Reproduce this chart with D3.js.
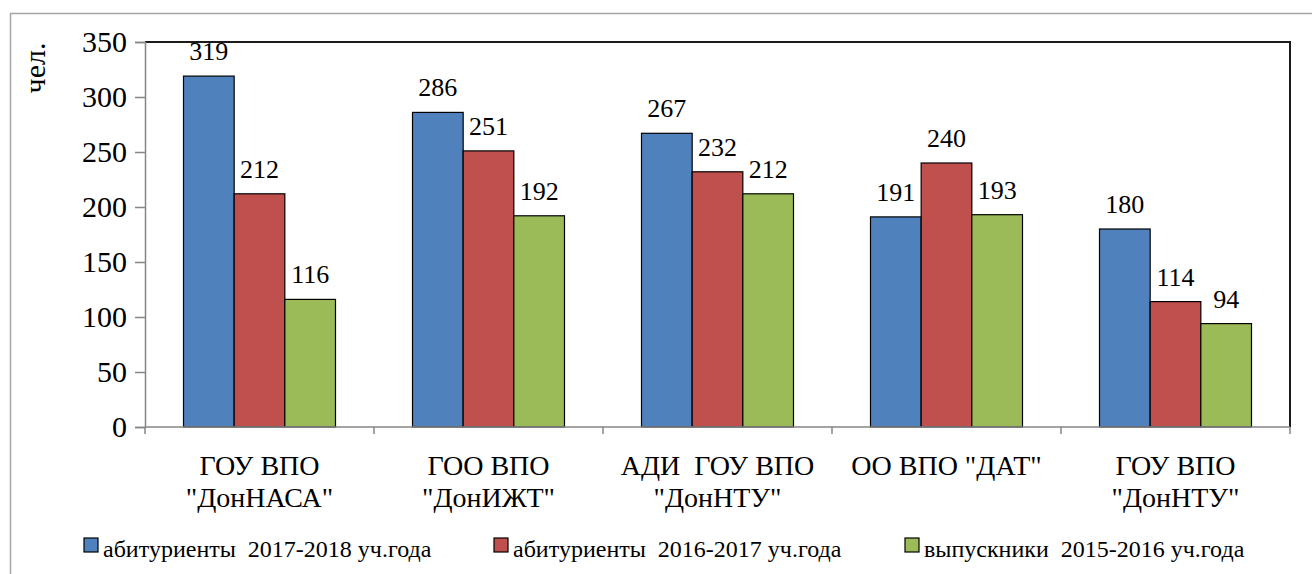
<!DOCTYPE html>
<html>
<head>
<meta charset="utf-8">
<script src="https://cdn.jsdelivr.net/npm/d3@7"></script>
</head>
<body style="margin:0">
<svg id="chart" width="1312" height="574" font-family="Liberation Serif"></svg>
<script>
// ----------------------
// Data
// ----------------------
const categories = [
    ["ГОУ ВПО", "\"ДонНАСА\""],
    ["ГОО ВПО", "\"ДонИЖТ\""],
    ["АДИ \u00A0ГОУ ВПО", "\"ДонНТУ\""],
    ["ОО ВПО \"ДАТ\""],
    ["ГОУ ВПО", "\"ДонНТУ\""]
];
const seriesNames = [
    "абитуриенты \u00A02017-2018 уч.года",
    "абитуриенты \u00A02016-2017 уч.года",
    "выпускники \u00A02015-2016 уч.года"
];
const applicants2017 = [319, 286, 267, 191, 180];
const applicants2016 = [212, 251, 232, 240, 114];
const graduates2015 = [116, 192, 212, 193, 94];
const yTicks = [0, 50, 100, 150, 200, 250, 300, 350];
const colors = ["#4F81BD", "#C0504D", "#9BBB59"];

const series = [applicants2017, applicants2016, graduates2015];

// helper: serif text, same way everywhere
function serif(sel, size) {
    return sel
        .attr("font-family", "Liberation Serif")
        .attr("font-size", size)
        .style("font-family", "'Liberation Serif', 'Times New Roman', serif")
        .style("font-size", size + "px")
        .attr("fill", "#000");
}

// ----------------------
// Layout
// ----------------------
const plot = { left: 145, right: 1290, top: 42, bottom: 427 };
const svg = d3.select("#chart");

// outer chart frame (cropped on right/bottom)
svg.append("rect")
    .attr("x", 10.5).attr("y", 13.5)
    .attr("width", 1400).attr("height", 700)
    .attr("fill", "none")
    .attr("stroke", "#a6a6a6")
    .attr("stroke-width", 1.5);

// Scales
const x0 = d3.scaleBand()
    .domain(d3.range(categories.length))
    .range([plot.left, plot.right]);

const x1 = d3.scaleBand()
    .domain(d3.range(series.length))
    .range([0, x0.bandwidth()])
    .paddingOuter(0.76);

const y = d3.scaleLinear()
    .domain([0, 350])
    .range([plot.bottom, plot.top]);

// plot area border (top & right)
svg.append("path")
    .attr("d", `M${plot.left},${plot.top}H${plot.right}V${plot.bottom}`)
    .attr("fill", "none")
    .attr("stroke", "#1a1a1a")
    .attr("stroke-width", 2);

// Bars
series.forEach((s, j) => {
    svg.selectAll(null)
        .data(s)
        .enter().append("rect")
        .attr("x", (d, i) => x0(i) + x1(j))
        .attr("y", d => y(d))
        .attr("width", x1.bandwidth())
        .attr("height", d => y(0) - y(d))
        .attr("fill", colors[j])
        .attr("stroke", "#000")
        .attr("stroke-width", 1.2);
});

// Data labels
series.forEach((s, j) => {
    s.forEach((v, i) => {
        serif(svg.append("text"), 26)
            .attr("x", x0(i) + x1(j) + x1.bandwidth() / 2)
            .attr("y", y(v) - 16)
            .attr("text-anchor", "middle")
            .text(v);
    });
});

// Y axis (lines from d3, labels drawn as plain texts)
const yAxis = svg.append("g")
    .attr("transform", `translate(${plot.left},0)`)
    .call(d3.axisLeft(y).tickValues(yTicks).tickSize(10).tickFormat(""));
yAxis.attr("font-family", null).attr("font-size", null);
yAxis.select(".domain").attr("stroke", "#868686").attr("stroke-width", 1.5);
yAxis.selectAll(".tick line").attr("stroke", "#868686").attr("stroke-width", 1.5);
yAxis.selectAll(".tick text").remove();

yTicks.forEach(t => {
    serif(svg.append("text"), 30)
        .attr("x", plot.left - 18)
        .attr("y", y(t) + 10)
        .attr("text-anchor", "end")
        .text(t);
});

// X axis line and category ticks
const xAxis = svg.append("g")
    .attr("transform", `translate(0,${plot.bottom})`);
xAxis.append("line")
    .attr("x1", plot.left).attr("x2", plot.right)
    .attr("stroke", "#868686").attr("stroke-width", 1.5);
xAxis.selectAll("line.tick")
    .data(d3.range(categories.length + 1))
    .enter().append("line")
    .attr("class", "tick")
    .attr("x1", i => i < categories.length ? x0(i) : plot.right)
    .attr("x2", i => i < categories.length ? x0(i) : plot.right)
    .attr("y1", 0).attr("y2", 7)
    .attr("stroke", "#868686").attr("stroke-width", 1.5);

// Category labels (one text per line)
categories.forEach((lines, i) => {
    lines.forEach((l, k) => {
        serif(svg.append("text"), 28)
            .attr("x", x0(i) + x0.bandwidth() / 2)
            .attr("y", 475 + k * 32)
            .attr("text-anchor", "middle")
            .text(l);
    });
});

// Y axis title
serif(svg.append("text"), 30)
    .attr("transform", "translate(45,68) rotate(-90)")
    .attr("text-anchor", "middle")
    .text("чел.");

// Legend
const legendX = [84, 494, 905];
seriesNames.forEach((name, j) => {
    svg.append("rect")
        .attr("x", legendX[j]).attr("y", 538)
        .attr("width", 14).attr("height", 14)
        .attr("fill", colors[j])
        .attr("stroke", "#000")
        .attr("stroke-width", 1.2);
    serif(svg.append("text"), 24)
        .attr("x", legendX[j] + 19)
        .attr("y", 557)
        .text(name);
});
</script>
</body>
</html>
